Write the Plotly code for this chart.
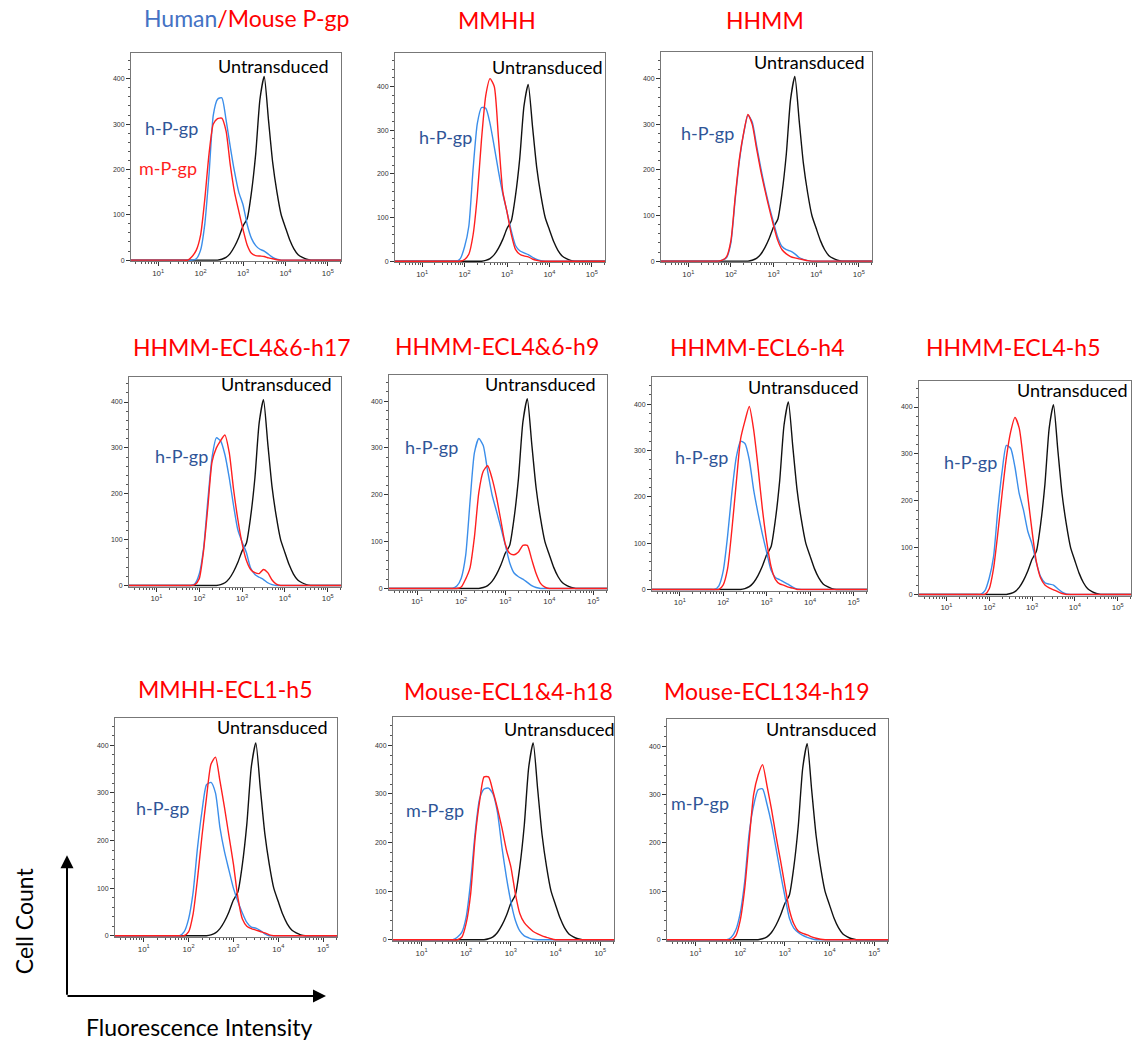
import plotly.graph_objects as go

W, H = 1132, 1044

# log10(fluorescence) sample positions used for every curve
LOG_GRID = [1.6, 1.7, 1.8, 1.9, 2.0, 2.1, 2.2, 2.3, 2.4, 2.5,
            2.6, 2.7, 2.8, 2.9, 3.0, 3.1, 3.2, 3.3, 3.4, 3.5,
            3.6, 3.7, 3.8, 3.9, 4.0, 4.1, 4.2, 4.3, 4.4, 4.5,
            4.6, 4.7]
LOG_MIN, LOG_MAX = 0.36, 5.31

UNTRANSDUCED = [0, 0, 0, 0, 0, 0, 0, 0, 0, 2, 6, 15, 30, 50, 75, 92, 150, 235, 355, 405,
                310, 215, 150, 100, 72, 45, 25, 12, 6, 2, 0, 0]

TITLES = ["Human/Mouse P-gp", "MMHH", "HHMM",
          "HHMM-ECL4&6-h17", "HHMM-ECL4&6-h9", "HHMM-ECL6-h4", "HHMM-ECL4-h5",
          "MMHH-ECL1-h5", "Mouse-ECL1&4-h18", "Mouse-ECL134-h19"]
BLUE_LABELS = ["h-P-gp", "h-P-gp", "h-P-gp", "h-P-gp", "h-P-gp", "h-P-gp", "h-P-gp",
               "h-P-gp", "m-P-gp", "m-P-gp"]

P1_BLUE = [0, 0, 0, 3, 22, 80, 190, 320, 355, 358, 310, 250, 195, 150, 122, 78, 48, 32, 24, 20, 13, 6, 2]
P1_RED = [0, 0, 8, 22, 55, 135, 235, 300, 312, 313, 285, 210, 150, 108, 68, 33, 15, 10, 9, 8, 5, 3, 1]
P2_BLUE = [0, 0, 0, 6, 33, 80, 210, 315, 352, 350, 315, 262, 205, 155, 113, 70, 36, 24, 19, 15, 9, 4, 1]
P2_RED = [0, 0, 0, 0, 4, 16, 60, 150, 280, 380, 418, 400, 280, 160, 113, 62, 27, 16, 12, 10, 5, 2, 0]
P3_BLUE = [0, 0, 2, 8, 40, 135, 220, 280, 320, 305, 255, 205, 160, 120, 85, 52, 32, 25, 22, 16, 8, 4, 1]
P3_RED = [0, 0, 2, 10, 45, 140, 225, 282, 322, 300, 248, 198, 155, 115, 78, 45, 25, 16, 10, 7, 5, 3, 1]
P4_BLUE = [0, 0, 0, 4, 25, 80, 185, 280, 322, 315, 285, 235, 175, 122, 95, 72, 38, 24, 18, 13, 6, 2, 0]
P4_RED = [0, 0, 0, 2, 15, 75, 170, 270, 300, 316, 328, 290, 211, 145, 92, 55, 35, 28, 26, 35, 28, 12, 3]
P5_BLUE = [0, 0, 0, 5, 22, 70, 185, 290, 320, 305, 250, 200, 165, 130, 93, 55, 33, 25, 20, 13, 6, 2, 0]
P5_RED = [0, 0, 0, 0, 3, 20, 44, 110, 205, 250, 262, 235, 195, 145, 95, 75, 72, 78, 92, 92, 62, 32, 11, 3]
P6_BLUE = [0, 0, 0, 8, 40, 115, 210, 285, 320, 315, 280, 215, 165, 120, 80, 42, 26, 21, 16, 11, 5, 1, 0]
P6_RED = [0, 0, 0, 0, 10, 45, 130, 230, 325, 364, 395, 345, 265, 175, 104, 50, 22, 12, 9, 5, 3, 0, 0]
P7_BLUE = [0, 0, 0, 8, 35, 80, 180, 262, 318, 312, 272, 215, 180, 135, 107, 68, 38, 25, 22, 20, 12, 5, 1]
P7_RED = [0, 0, 0, 0, 12, 55, 130, 215, 292, 347, 378, 355, 285, 210, 135, 70, 35, 20, 14, 10, 6, 2, 0]
P8_BLUE = [0, 0, 0, 8, 35, 90, 185, 262, 317, 322, 300, 227, 177, 138, 100, 72, 48, 28, 18, 16, 11, 4, 0]
P8_RED = [0, 0, 0, 0, 8, 45, 120, 210, 290, 360, 375, 325, 270, 210, 151, 80, 35, 20, 15, 12, 9, 6, 2]
P9_BLUE = [0, 0, 5, 15, 47, 120, 220, 290, 310, 312, 300, 262, 190, 129, 78, 40, 18, 8, 4, 1, 0, 0, 0]
P9_RED = [0, 0, 0, 5, 34, 95, 210, 285, 335, 335, 305, 270, 230, 185, 150, 95, 54, 35, 25, 17, 12, 8, 5, 2]
P10_BLUE = [0, 0, 5, 20, 55, 120, 220, 277, 310, 312, 280, 240, 190, 138, 90, 45, 24, 15, 9, 5, 2, 0, 0]
P10_RED = [0, 0, 0, 8, 40, 105, 205, 300, 340, 362, 318, 270, 215, 165, 112, 62, 33, 18, 13, 10, 6, 3, 1]

BLUE_SERIES = [P1_BLUE, P2_BLUE, P3_BLUE, P4_BLUE, P5_BLUE, P6_BLUE, P7_BLUE, P8_BLUE, P9_BLUE, P10_BLUE]
RED_SERIES = [P1_RED, P2_RED, P3_RED, P4_RED, P5_RED, P6_RED, P7_RED, P8_RED, P9_RED, P10_RED]
Y_MAX = [457, 477, 459, 454, 455, 458, 455, 458, 459, 457]

X_TICKS = [10, 100, 1000, 10000, 100000]
X_TICKTEXT = ["10<sup>1</sup>", "10<sup>2</sup>", "10<sup>3</sup>", "10<sup>4</sup>", "10<sup>5</sup>"]
Y_TICKS = [0, 100, 200, 300, 400]

# layout: panel boxes in pixels (left, right, top, bottom)
BOXES = [(131, 341, 53, 262), (395, 605, 53, 263), (661, 872, 52, 263),
         (129, 341, 378, 588), (389, 607, 376, 591), (652, 867, 378, 592), (919, 1131, 382, 597),
         (115, 337, 719, 939), (393, 614, 718, 943), (667, 888, 720, 943)]
TITLE_POS = [(246, 18), (497, 20), (765, 20), (242, 348), (497, 347), (757, 348), (1013, 348),
             (225, 690), (508, 692), (767, 692)]
UNTR_POS = [(273, 66), (547, 67), (809, 62), (276, 385), (540, 385), (803, 388), (1072, 391),
            (272, 728), (559, 730), (821, 730)]
LABEL_POS = [(171, 128), (445, 137), (707, 133), (181, 457), (431, 448), (701, 458), (970, 463),
             (162, 810), (435, 812), (700, 805)]

C_BLUE = "#3B8EEA"
C_RED = "#FF1F1F"
C_BLACK = "#111111"
C_TITLE = "#FF0000"
C_LABEL = "#2F5597"
FONT = "Lato"


def full(vals):
    v = list(vals) + [0] * (len(LOG_GRID) - len(vals))
    return [0] + v + [0]


xs = [10 ** LOG_MIN] + [10 ** g for g in LOG_GRID] + [10 ** LOG_MAX]

fig = go.Figure()
layout = {}
annotations = []

for i in range(10):
    n = "" if i == 0 else str(i + 1)
    xa, ya = "x" + n, "y" + n
    for counts, color in [(UNTRANSDUCED, C_BLACK), (BLUE_SERIES[i], C_BLUE), (RED_SERIES[i], C_RED)]:
        fig.add_trace(go.Scatter(
            x=xs, y=full(counts), mode="lines",
            line=dict(color=color, width=1.4, shape="spline", smoothing=0.6),
            xaxis=xa, yaxis=ya, hoverinfo="skip", showlegend=False))
    l, r, t, b = BOXES[i]
    layout["xaxis" + n] = dict(
        domain=[l / W, r / W], anchor=ya, type="log", range=[LOG_MIN, LOG_MAX],
        tickvals=X_TICKS, ticktext=X_TICKTEXT, tickfont=dict(size=8, color="#333", family="Liberation Sans"),
        ticks="outside", ticklen=4, tickcolor="#333", showgrid=False, zeroline=False,
        showline=True, mirror=True, linecolor="#777", linewidth=1,
        minor=dict(ticks="outside", ticklen=2, tickcolor="#555", dtick="D1", showgrid=False))
    layout["yaxis" + n] = dict(
        domain=[1 - b / H, 1 - t / H], anchor=xa, range=[-3, Y_MAX[i]],
        tickvals=Y_TICKS, tickfont=dict(size=7, color="#333", family="Liberation Sans"),
        ticks="outside", ticklen=4, tickcolor="#333", showgrid=False, zeroline=False,
        showline=True, mirror=True, linecolor="#777", linewidth=1,
        minor=dict(ticks="outside", ticklen=2, tickcolor="#555", dtick=20, showgrid=False))

    if i == 0:
        title = "<span style='color:#4472C4'>Human</span>/Mouse P-gp"
    else:
        title = TITLES[i]
    tx, ty = TITLE_POS[i]
    annotations.append(dict(text=title, x=tx / W, y=1 - ty / H, xref="paper", yref="paper",
                            showarrow=False, xanchor="center", yanchor="middle",
                            font=dict(family=FONT, size=23, color=C_TITLE)))
    ux, uy = UNTR_POS[i]
    annotations.append(dict(text="Untransduced", x=ux / W, y=1 - uy / H, xref="paper", yref="paper",
                            showarrow=False, xanchor="center", yanchor="middle",
                            font=dict(family=FONT, size=18, color="#000")))
    lx, ly = LABEL_POS[i]
    annotations.append(dict(text=BLUE_LABELS[i], x=lx / W, y=1 - ly / H, xref="paper", yref="paper",
                            showarrow=False, xanchor="center", yanchor="middle",
                            font=dict(family=FONT, size=18, color=C_LABEL)))

annotations.append(dict(text="m-P-gp", x=168 / W, y=1 - 168 / H, xref="paper", yref="paper",
                        showarrow=False, xanchor="center", yanchor="middle",
                        font=dict(family=FONT, size=18, color=C_RED)))

# generic axis arrows
annotations.append(dict(text="", x=67 / W, y=1 - 857 / H, xref="paper", yref="paper",
                        showarrow=True, ax=0, ay=141, arrowhead=2, arrowsize=1.3, arrowwidth=2,
                        arrowcolor="#000"))
annotations.append(dict(text="", x=326 / W, y=1 - 998 / H, xref="paper", yref="paper",
                        showarrow=True, ax=-260, ay=0, arrowhead=2, arrowsize=1.3, arrowwidth=2,
                        arrowcolor="#000"))
annotations.append(dict(text="Cell Count", x=24 / W, y=1 - 923 / H, xref="paper", yref="paper",
                        showarrow=False, textangle=-90, xanchor="center", yanchor="middle",
                        font=dict(family=FONT, size=23, color="#000")))
annotations.append(dict(text="Fluorescence Intensity", x=199 / W, y=1 - 1029 / H, xref="paper", yref="paper",
                        showarrow=False, xanchor="center", yanchor="middle",
                        font=dict(family=FONT, size=23, color="#000")))

fig.update_layout(**layout)
fig.update_layout(width=W, height=H, margin=dict(l=0, r=0, t=0, b=0),
                  paper_bgcolor="white", plot_bgcolor="white",
                  annotations=annotations, showlegend=False)

fig.write_html("out.html",
               config={"displayModeBar": False, "staticPlot": True},
               post_script="document.body.style.margin='0';document.body.style.padding='0';"
                           "document.body.style.overflow='hidden';")
